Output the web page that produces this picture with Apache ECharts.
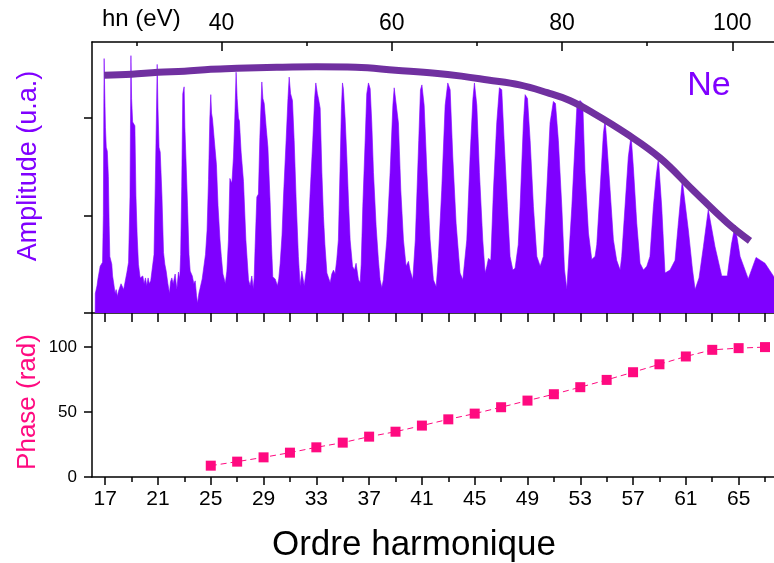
<!DOCTYPE html>
<html>
<head>
<meta charset="utf-8">
<script src="https://cdn.jsdelivr.net/npm/echarts@6/dist/echarts.min.js"></script>
<style>
html,body{margin:0;padding:0;background:#fff;}
#chart{width:774px;height:563px;}
</style>
</head>
<body>
<div id="chart"></div>
<script>
// ---- data ----
// harmonic spectrum (order, amplitude in u.a.)
const spectrumPoints = [
[16.24,0],[16.25,0.2],[16.3,0.22],[16.38,0.28],[16.45,0.35],[16.55,0.37],[16.62,0.48],[16.72,0.5],[16.8,0.52],
[16.86,1.0],[16.9,2.2],[16.92,2.61],[16.96,2.3],[17.02,1.9],[17.08,1.7],[17.16,1.66],[17.24,1.4],[17.3,0.9],[17.35,0.58],[17.42,0.56],[17.5,0.5],[17.56,0.38],[17.65,0.3],[17.75,0.2],[17.83,0.24],[17.92,0.17],[18.0,0.22],[18.1,0.24],[18.2,0.3],[18.3,0.32],[18.4,0.24],[18.55,0.35],[18.65,0.42],[18.77,0.52],
[18.88,1.2],[18.95,2.64],[19.0,2.2],[19.08,1.96],[19.25,1.92],[19.33,1.2],[19.42,0.8],[19.52,0.5],[19.65,0.36],[19.75,0.34],[19.85,0.38],[19.95,0.3],[20.05,0.36],[20.15,0.28],[20.25,0.36],[20.35,0.3],[20.45,0.33],[20.6,0.35],[20.7,0.6],[20.8,1.35],
[20.88,2.0],[20.94,2.55],[21.0,2.1],[21.08,1.7],[21.17,1.65],[21.3,1.2],[21.42,0.62],[21.52,0.5],[21.62,0.43],[21.75,0.3],[21.87,0.2],[21.95,0.32],[22.05,0.36],[22.15,0.3],[22.3,0.4],[22.43,0.24],[22.55,0.42],[22.65,0.35],[22.72,0.6],[22.8,1.3],
[22.88,2.25],[22.98,2.32],[23.04,1.9],[23.12,1.58],[23.24,1.1],[23.35,0.6],[23.44,0.43],[23.6,0.38],[23.72,0.3],[23.82,0.33],[23.92,0.18],[24.0,0.1],[24.1,0.2],[24.2,0.22],[24.35,0.35],[24.5,0.5],[24.6,0.6],[24.72,0.85],[24.83,1.37],
[24.93,2.0],[25.0,2.24],[25.06,2.05],[25.13,1.99],[25.25,1.8],[25.43,1.52],[25.55,1.1],[25.7,0.75],[25.8,0.58],[25.92,0.4],[26.0,0.36],[26.1,0.3],[26.22,0.43],[26.34,0.75],[26.45,1.38],[26.6,1.33],[26.72,1.6],[26.82,2.0],
[26.92,2.47],[27.0,2.2],[27.1,2.0],[27.17,1.97],[27.3,1.65],[27.48,1.35],[27.66,0.75],[27.86,0.34],[27.98,0.28],[28.11,0.38],[28.22,0.25],[28.29,0.36],[28.36,0.68],[28.49,1.19],[28.61,1.22],[28.72,1.8],
[28.87,2.37],[28.95,2.2],[29.05,2.15],[29.2,1.9],[29.33,1.7],[29.5,1.13],[29.6,0.7],[29.7,0.37],[29.88,0.35],[30.05,0.28],[30.15,0.35],[30.26,0.51],[30.4,0.8],[30.51,1.19],[30.71,1.77],[30.85,2.2],
[30.94,2.42],[31.05,2.25],[31.19,2.18],[31.32,1.77],[31.47,1.16],[31.64,0.58],[31.77,0.28],[31.9,0.43],[32.08,0.28],[32.23,0.43],[32.28,0.52],[32.4,0.85],[32.53,1.23],[32.73,1.77],[32.87,2.2],
[32.96,2.36],[33.08,2.25],[33.16,2.2],[33.29,2.1],[33.42,1.44],[33.54,0.99],[33.65,0.7],[33.8,0.41],[34.05,0.31],[34.17,0.4],[34.3,0.44],[34.42,0.4],[34.55,0.55],[34.67,0.75],[34.8,1.5],[34.9,2.1],
[34.98,2.36],[35.05,2.3],[35.18,2.0],[35.31,1.6],[35.45,1.1],[35.56,0.75],[35.74,0.48],[35.89,0.44],[36.01,0.51],[36.19,0.34],[36.32,0.31],[36.4,0.5],[36.52,1.09],[36.7,1.77],[36.82,2.25],
[36.95,2.36],[37.08,2.3],[37.2,1.95],[37.33,1.44],[37.53,0.89],[37.7,0.55],[37.83,0.34],[37.96,0.26],[38.08,0.34],[38.34,0.75],[38.59,1.44],[38.8,2.13],
[38.9,2.31],[39.05,2.31],[39.22,1.95],[39.4,1.26],[39.6,0.75],[39.8,0.48],[39.98,0.53],[40.1,0.44],[40.31,0.34],[40.5,0.75],[40.76,1.77],[40.89,2.29],
[41.0,2.34],[41.17,2.13],[41.38,1.44],[41.62,0.75],[41.87,0.34],[42.08,0.27],[42.25,0.58],[42.5,1.26],[42.76,2.13],
[42.96,2.36],[43.14,2.29],[43.34,1.6],[43.59,0.92],[43.89,0.41],[44.1,0.34],[44.4,0.75],[44.65,1.6],[44.86,2.19],
[44.98,2.36],[45.16,2.13],[45.36,1.44],[45.61,0.75],[45.79,0.41],[45.92,0.48],[46.04,0.56],[46.22,0.54],[46.42,1.26],[46.67,1.95],
[46.87,2.31],[47.05,2.29],[47.23,1.77],[47.48,1.09],[47.68,0.58],[47.89,0.44],[48.06,0.46],[48.19,0.48],[48.3,0.7],[48.44,1.09],[48.69,1.95],
[48.82,2.24],[49.0,2.2],[49.2,1.77],[49.45,1.09],[49.71,0.58],[49.96,0.48],[50.2,0.58],[50.46,1.26],[50.71,1.95],[50.96,2.17],
[51.04,2.19],[51.12,2.15],[51.34,1.77],[51.6,1.09],[51.8,0.45],[51.98,0.24],[52.36,1.09],[52.74,2.11],
[52.98,2.18],[53.19,2.15],[53.36,1.44],[53.62,0.82],[53.87,0.55],[54.12,0.58],[54.25,0.7],[54.5,1.26],[54.75,1.84],
[54.88,1.98],[55.0,1.77],[55.26,1.26],[55.51,0.75],[55.76,0.54],[56.02,0.44],[56.14,0.58],[56.39,1.09],[56.64,1.6],
[56.85,1.82],[57.02,1.5],[57.28,0.92],[57.53,0.51],[57.79,0.44],[58.04,0.48],[58.28,0.58],[58.54,1.09],[58.75,1.4],
[58.92,1.59],[59.17,1.09],[59.42,0.41],[59.8,0.44],[60.18,0.54],[60.45,0.95],
[60.73,1.36],[61.19,0.85],[61.5,0.45],[61.7,0.24],[62.0,0.36],[62.33,0.68],
[62.7,1.06],[63.21,0.68],[63.72,0.38],[64.14,0.38],[64.45,0.7],
[64.73,0.9],[65.11,0.58],[65.73,0.35],[66.32,0.57],[67.0,0.51],[67.68,0.37]
];

// envelope drawn over the peaks (order, amplitude)
const envelopeOrder = [16.92, 19, 21, 23, 25, 27, 30, 33, 36, 39, 42, 44, 46, 48.4, 50.5, 52.2, 54, 56.5, 59.05, 61.55, 64.1, 65.86];
const envelopeAmp   = [2.44, 2.45, 2.47, 2.48, 2.50, 2.51, 2.52, 2.525, 2.52, 2.49, 2.46, 2.43, 2.39, 2.34, 2.26, 2.18, 2.05, 1.84, 1.59, 1.26, 0.93, 0.74];

// harmonic phase (rad)
const phaseOrder = [25, 27, 29, 31, 33, 35, 37, 39, 41, 43, 45, 47, 49, 51, 53, 55, 57, 59, 61, 63, 65, 67];
const phaseValue = [8.7, 11.8, 15.1, 18.7, 22.8, 26.4, 31.0, 34.8, 39.5, 44.3, 48.7, 53.6, 58.7, 63.6, 69.0, 74.6, 80.5, 86.6, 92.6, 97.7, 99.0, 99.8];

// axes
const orderRange = [16, 67.68];
const energyRange = [24.8, 104.9];           // eV = 1.55 * order
const orderLabels = [17, 21, 25, 29, 33, 37, 41, 45, 49, 53, 57, 61, 65];
const orderMinor = [19, 23, 27, 31, 35, 39, 43, 47, 51, 55, 59, 63, 67];
const orderAll = [17, 19, 21, 23, 25, 27, 29, 31, 33, 35, 37, 39, 41, 43, 45, 47, 49, 51, 53, 55, 57, 59, 61, 63, 65, 67];
const energyLabels = [40, 60, 80, 100];
const energyMinor = [30, 50, 70, 90];
const ampTicks = [0, 1, 2];
const ampRange = [0, 2.78];
const phaseLabels = [0, 50, 100];
const phaseMinor = [25, 75];
const phaseRange = [0, 126];

const FONT = 'Liberation Sans, Arial, sans-serif';
const AX = {lineStyle: {color: '#000', width: 1.5}};
const TK = (vals, len, inside) => ({show: true, customValues: vals, length: len, inside: !!inside, lineStyle: {color: '#000', width: 1.5}});

const chart = echarts.init(document.getElementById('chart'), null, {renderer: 'canvas'});
chart.setOption({
  animation: false,
  backgroundColor: '#fff',
  grid: [
    {left: 92, right: 0, top: 42, height: 271},
    {left: 92, right: 0, top: 313, height: 164}
  ],
  xAxis: [
    {gridIndex: 0, type: 'value', position: 'bottom', min: orderRange[0], max: orderRange[1],
     axisLine: AX, axisTick: TK(orderAll, 9, false), axisLabel: {show: false}, splitLine: {show: false}},
    {gridIndex: 0, type: 'value', position: 'top', min: energyRange[0], max: energyRange[1],
     axisLine: AX, axisTick: TK(energyLabels, 9, true),
     axisLabel: {show: true, customValues: energyLabels, fontSize: 23, fontFamily: FONT, color: '#000', margin: 7},
     splitLine: {show: false}},
    {gridIndex: 0, type: 'value', position: 'top', min: energyRange[0], max: energyRange[1],
     axisLine: {show: false}, axisTick: TK(energyMinor, 4, true), axisLabel: {show: false}, splitLine: {show: false}},
    {gridIndex: 1, type: 'value', position: 'bottom', min: orderRange[0], max: orderRange[1],
     axisLine: AX, axisTick: TK(orderLabels, 8, false),
     axisLabel: {show: true, customValues: orderLabels, fontSize: 21, fontFamily: FONT, color: '#000', margin: 12},
     splitLine: {show: false}},
    {gridIndex: 1, type: 'value', position: 'bottom', min: orderRange[0], max: orderRange[1],
     axisLine: {show: false}, axisTick: TK(orderMinor, 5, false), axisLabel: {show: false}, splitLine: {show: false}}
  ],
  yAxis: [
    {gridIndex: 0, type: 'value', min: ampRange[0], max: ampRange[1],
     axisLine: {show: true, lineStyle: {color: '#000', width: 1.5}}, axisTick: TK(ampTicks, 8, false),
     axisLabel: {show: false}, splitLine: {show: false}},
    {gridIndex: 1, type: 'value', min: phaseRange[0], max: phaseRange[1],
     axisLine: {show: true, lineStyle: {color: '#000', width: 1.5}}, axisTick: TK(phaseLabels, 8, false),
     axisLabel: {show: true, customValues: phaseLabels, fontSize: 17, fontFamily: FONT, color: '#000', margin: 15},
     splitLine: {show: false}},
    {gridIndex: 1, type: 'value', min: phaseRange[0], max: phaseRange[1],
     axisLine: {show: false}, axisTick: TK(phaseMinor, 4, false), axisLabel: {show: false}, splitLine: {show: false}}
  ],
  series: [
    {type: 'line', xAxisIndex: 0, yAxisIndex: 0, data: spectrumPoints, showSymbol: false,
     lineStyle: {color: '#7F00FF', width: 0.6}, areaStyle: {color: '#7F00FF', opacity: 1}, z: 2},
    {type: 'line', xAxisIndex: 0, yAxisIndex: 0, data: envelopeOrder.map((o, i) => [o, envelopeAmp[i]]),
     showSymbol: false, smooth: 0.4, lineStyle: {color: '#7030A0', width: 7, cap: 'butt'}, z: 3},
    {type: 'line', xAxisIndex: 3, yAxisIndex: 1, data: phaseOrder.map((o, i) => [o, phaseValue[i]]),
     symbol: 'rect', symbolSize: 10, itemStyle: {color: '#FF0A80'},
     lineStyle: {color: '#FF0A80', width: 1, type: [6, 4]}, z: 3}
  ],
  graphic: [
    {type: 'text', left: 102, top: 7, style: {text: 'hn (eV)', font: '24px ' + FONT, fill: '#000'}},
    {type: 'text', x: 709, y: 86, style: {text: 'Ne', font: '34px ' + FONT, fill: '#8000FF', align: 'center', verticalAlign: 'middle'}},
    {type: 'text', x: 414, y: 545, style: {text: 'Ordre harmonique', font: '35px ' + FONT, fill: '#000', align: 'center', verticalAlign: 'middle'}},
    {type: 'text', x: 29, y: 166, rotation: Math.PI / 2, style: {text: 'Amplitude (u.a.)', font: '27px ' + FONT, fill: '#8000FF', align: 'center', verticalAlign: 'middle'}},
    {type: 'text', x: 28, y: 402, rotation: Math.PI / 2, style: {text: 'Phase (rad)', font: '26px ' + FONT, fill: '#FF0A80', align: 'center', verticalAlign: 'middle'}}
  ]
});
</script>
</body>
</html>
